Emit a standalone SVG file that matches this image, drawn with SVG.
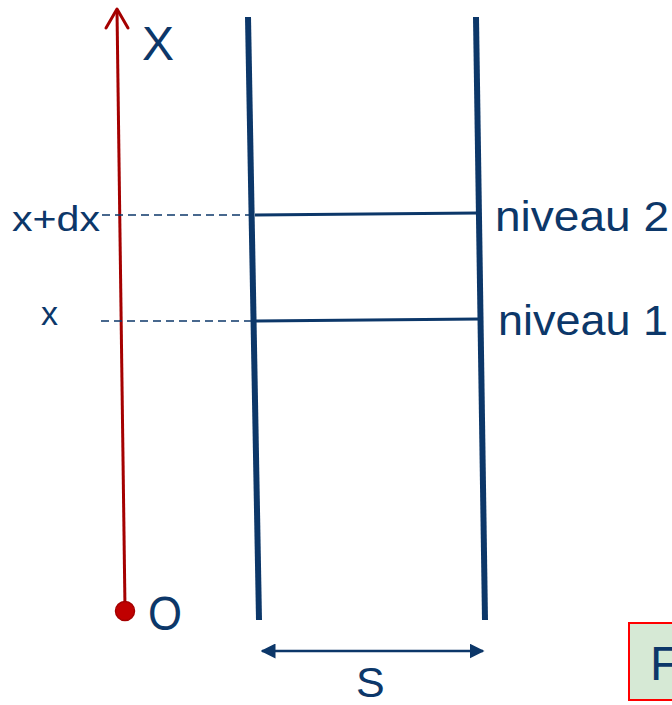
<svg xmlns="http://www.w3.org/2000/svg" width="672" height="705" viewBox="0 0 672 705">
<style>
.t{font-family:"Liberation Sans",Arial,sans-serif;fill:#0c3769}
.wall{stroke:#0c3769;stroke-width:6;fill:none}
.lvl{stroke:#0c3769;stroke-width:3;fill:none}
.dash{stroke:#0c3769;stroke-width:1.5;stroke-dasharray:8 5;fill:none}
</style>
<defs>
<marker id="ah" viewBox="0 0 10 10" refX="9" refY="5" markerWidth="6" markerHeight="6" orient="auto-start-reverse" markerUnits="strokeWidth">
<path d="M0,0 L10,5 L0,10 z" fill="#0c3769"/>
</marker>
</defs>
<rect width="672" height="705" fill="#ffffff"/>
<g id="axis">
<line x1="117" y1="10" x2="125" y2="608" stroke="#a50000" stroke-width="3"/>
<polyline points="106,28 117,9 128,28" fill="none" stroke="#a50000" stroke-width="3" stroke-linecap="round" stroke-linejoin="round"/>
<circle cx="125" cy="611" r="9.5" fill="#c00000" stroke="#a50000" stroke-width="1.5"/>
<text class="t" x="142" y="60" font-size="48">X</text>
<text class="t" x="148" y="630" font-size="48" textLength="34" lengthAdjust="spacingAndGlyphs">O</text>
</g>
<g id="walls">
<line class="wall" x1="248" y1="17" x2="259" y2="620"/>
<line class="wall" x1="476" y1="17" x2="485" y2="620"/>
</g>
<g id="connectors">
<line class="dash" x1="102" y1="215" x2="252" y2="215"/>
<line class="dash" x1="101" y1="321" x2="253" y2="321"/>
<line x1="262" y1="651" x2="483" y2="651" stroke="#0c3769" stroke-width="2.5" marker-start="url(#ah)" marker-end="url(#ah)"/>
</g>
<g id="niveau2">
<line class="lvl" x1="255" y1="215" x2="478" y2="213"/>
<text class="t" x="495" y="231" font-size="42" textLength="174" lengthAdjust="spacingAndGlyphs">niveau 2</text>
<text class="t" x="12" y="231" font-size="35" textLength="88" lengthAdjust="spacingAndGlyphs">x+dx</text>
</g>
<g id="niveau1">
<line class="lvl" x1="256" y1="321" x2="480" y2="319"/>
<text class="t" x="498" y="335" font-size="42" textLength="170" lengthAdjust="spacingAndGlyphs">niveau 1</text>
<text class="t" x="41" y="325" font-size="34">x</text>
</g>
<g id="S">
<text class="t" x="356" y="697" font-size="43">S</text>
</g>
<g id="F">
<rect x="629" y="623" width="60" height="77" fill="#d6e9d5" stroke="#ff0000" stroke-width="2"/>
<text class="t" x="650" y="680" font-size="48">F</text>
</g>
</svg>
